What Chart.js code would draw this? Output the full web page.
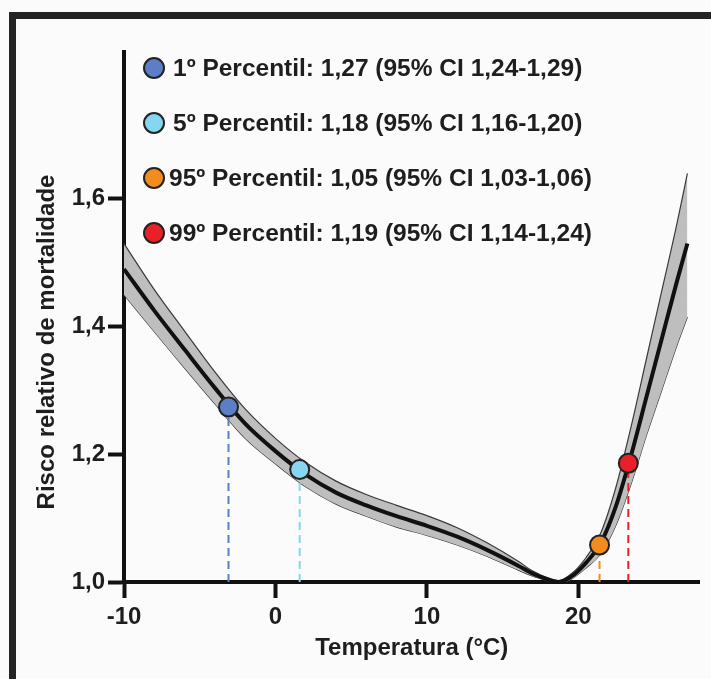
<!DOCTYPE html>
<html>
<head>
<meta charset="utf-8">
<script src="https://cdn.jsdelivr.net/npm/chart.js@4.4.1/dist/chart.umd.min.js"></script>
<style>
  html, body { margin: 0; padding: 0; background: #fbfbfb; }
  #frame { position: absolute; left: 9px; top: 12px; width: 702px; height: 667px; border-top: 7px solid #242424; border-left: 7px solid #242424; box-sizing: border-box; }
  #wrap { position: absolute; left: 0; top: 0; width: 711px; height: 679px; }
</style>
</head>
<body>
<div id="frame"></div>
<div id="wrap"><canvas id="rr" width="711" height="679"></canvas></div>
<script>
// exposure-response curve
const temps     = [-10, -8, -6, -4, -2, 0, 2, 4, 6, 8, 10, 12, 14, 16, 17, 18, 18.7, 19.5, 20.5, 21.5, 22.5, 23.5, 24.5, 25.5, 26.5, 27.2];
const rrCentral = [1.490, 1.425, 1.364, 1.304, 1.248, 1.205, 1.168, 1.140, 1.120, 1.103, 1.088, 1.071, 1.050, 1.026, 1.013, 1.004, 1.000, 1.008, 1.030, 1.062, 1.120, 1.200, 1.290, 1.380, 1.470, 1.530];
const rrLower   = [1.450, 1.392, 1.335, 1.279, 1.225, 1.185, 1.149, 1.122, 1.103, 1.086, 1.073, 1.058, 1.040, 1.019, 1.009, 1.002, 0.998, 1.004, 1.022, 1.045, 1.090, 1.155, 1.230, 1.300, 1.370, 1.415];
const rrUpper   = [1.530, 1.458, 1.393, 1.329, 1.271, 1.225, 1.187, 1.158, 1.137, 1.120, 1.104, 1.085, 1.061, 1.033, 1.017, 1.006, 1.002, 1.012, 1.038, 1.078, 1.150, 1.245, 1.350, 1.455, 1.560, 1.640];

// percentile markers
const pctNames  = ['1º Percentil', '5º Percentil', '95º Percentil', '99º Percentil'];
const pctTemps  = [-3.1, 1.6, 21.4, 23.3];
const pctRR     = [1.274, 1.176, 1.058, 1.186];
const pctText   = ['1,27', '1,18', '1,05', '1,19'];
const pctCI     = ['1,24-1,29', '1,16-1,20', '1,03-1,06', '1,14-1,24'];
const pctColors = ['#5b7ec6', '#86d6f2', '#f28c1e', '#e8202a'];

const xTicks = [-10, 0, 10, 20];
const yTicks = [1.0, 1.2, 1.4, 1.6];

const FONT = "'Liberation Sans', Arial, sans-serif";
const INK = '#1e1e1e';

const toXY = (ys) => temps.map((t, i) => ({ x: t, y: ys[i] }));

const datasets = [
  { data: toXY(rrUpper), showLine: true, fill: '+1', backgroundColor: '#bebebe', borderColor: '#3a3a3a', borderWidth: 1.2, pointRadius: 0, cubicInterpolationMode: 'monotone', order: 6 },
  { data: toXY(rrLower), showLine: true, fill: false, borderColor: '#3a3a3a', borderWidth: 1.2, pointRadius: 0, cubicInterpolationMode: 'monotone', order: 6 },
  { data: toXY(rrCentral), showLine: true, fill: false, borderColor: '#111', borderWidth: 4, pointRadius: 0, cubicInterpolationMode: 'monotone', order: 4 }
];

// dashed drop lines from each marker down to the axis
pctTemps.forEach((t, i) => {
  datasets.push({ data: [{ x: t, y: 1.0 }, { x: t, y: pctRR[i] }], showLine: true, fill: false, borderColor: pctColors[i], borderWidth: 2, borderDash: [8, 5], pointRadius: 0, order: 5 });
});
pctTemps.forEach((t, i) => {
  datasets.push({ data: [{ x: t, y: pctRR[i] }], pointRadius: 9.5, pointBackgroundColor: pctColors[i], pointBorderColor: '#222', pointBorderWidth: 2, order: 1 });
});

const overlay = {
  id: 'overlay',
  afterDraw(chart) {
    const ctx = chart.ctx;
    ctx.save();
    // legend rows
    const rowY = [68, 123, 178, 233];
    ctx.font = `bold 24.5px ${FONT}`;
    ctx.textBaseline = 'middle';
    ctx.textAlign = 'left';
    pctNames.forEach((name, i) => {
      ctx.beginPath();
      ctx.arc(154, rowY[i], 10, 0, Math.PI * 2);
      ctx.fillStyle = pctColors[i];
      ctx.fill();
      ctx.lineWidth = 2;
      ctx.strokeStyle = '#222';
      ctx.stroke();
      ctx.fillStyle = INK;
      ctx.fillText(`${name}: ${pctText[i]} (95% CI ${pctCI[i]})`, i < 2 ? 173 : 169, rowY[i] + 1);
    });
    // y title, sits a bit lower than centre in the original
    ctx.font = `bold 24px ${FONT}`;
    ctx.translate(47, 342);
    ctx.rotate(-Math.PI / 2);
    ctx.textAlign = 'center';
    ctx.fillText('Risco relativo de mortalidade', 0, 0);
    ctx.restore();
  }
};

const axisLine = { width: 4, color: '#111' };
const tickGrid = { drawOnChartArea: false, drawTicks: true, tickLength: 16, tickWidth: 4, tickColor: '#111' };

new Chart(document.getElementById('rr').getContext('2d'), {
  type: 'scatter',
  data: { datasets },
  plugins: [overlay],
  options: {
    responsive: false,
    animation: false,
    layout: { padding: { top: 52, right: 11, left: 0, bottom: 0 } },
    plugins: { legend: { display: false }, tooltip: { enabled: false } },
    scales: {
      x: {
        type: 'linear', min: -10, max: 28,
        afterBuildTicks: (s) => { s.ticks = xTicks.map((v) => ({ value: v })); },
        afterFit: (s) => { s.height = 97; },
        ticks: { color: INK, padding: 5, font: { family: FONT, size: 24, weight: 'bold' } },
        grid: tickGrid,
        border: axisLine,
        title: { display: true, text: 'Temperatura (°C)', color: INK, padding: { top: 4, bottom: 16 }, font: { family: FONT, size: 24, weight: 'bold' } }
      },
      y: {
        min: 1.0, max: 1.83,
        afterBuildTicks: (s) => { s.ticks = yTicks.map((v) => ({ value: v })); },
        afterFit: (s) => { s.width = 124; },
        ticks: { color: INK, padding: 3, font: { family: FONT, size: 24, weight: 'bold' }, callback: (v) => v.toFixed(1).replace('.', ',') },
        grid: tickGrid,
        border: axisLine
      }
    }
  }
});
</script>
</body>
</html>
